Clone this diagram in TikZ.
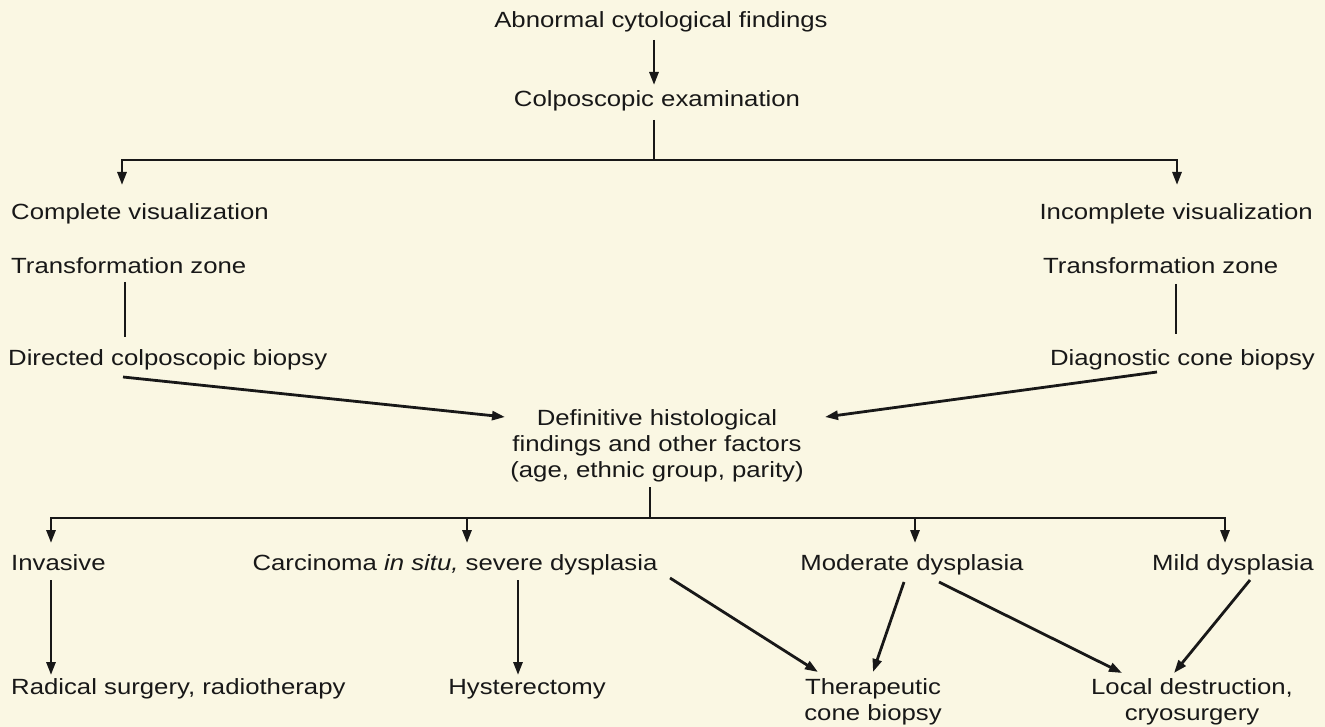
\documentclass[tikz,border=0pt]{standalone}
\usepackage{fontspec}
\setmainfont{Liberation Sans}[FakeStretch=1.17]
\usetikzlibrary{arrows.meta}
\definecolor{paper}{RGB}{250,247,227}
\definecolor{ink}{RGB}{24,24,24}
\begin{document}
\begin{tikzpicture}[x=1pt,y=-1pt,
  lbl/.style={inner sep=0pt, text=ink, font=\fontsize{22}{26}\selectfont},
  conn/.style={draw=ink, line width=2.8pt},
  arr/.style={conn, -{Triangle[length=13pt,width=9pt]}},
]
\fill[paper] (0,0) rectangle (1325,727);
\useasboundingbox (0,0) rectangle (1325,727);

% ---- text nodes ----
\node[lbl, anchor=base] (abn) at (661,28) {Abnormal cytological findings};
\node[lbl, anchor=base] (colp) at (657,107) {Colposcopic examination};
\node[lbl, anchor=base west] (comp) at (11,220) {Complete visualization};
\node[lbl, anchor=base east] (incomp) at (1313,220) {Incomplete visualization};
\node[lbl, anchor=base west] (tzl) at (11,274) {Transformation zone};
\node[lbl, anchor=base west] (tzr) at (1043,274) {Transformation zone};
\node[lbl, anchor=base west] (dir) at (8,365) {Directed colposcopic biopsy};
\node[lbl, anchor=base east] (diag) at (1315,365) {Diagnostic cone biopsy};
\node[lbl, align=center] (defin) at (657,446) {Definitive histological\\findings and other factors\\(age, ethnic group, parity)};
\node[lbl, anchor=base west] (inv) at (11,570) {Invasive};
\node[lbl, anchor=base] (cis) at (455,570) {Carcinoma \textit{in situ,} severe dysplasia};
\node[lbl, anchor=base] (mod) at (912,570) {Moderate dysplasia};
\node[lbl, anchor=base east] (mild) at (1314,570) {Mild dysplasia};
\node[lbl, anchor=base west] (rad) at (11,694) {Radical surgery, radiotherapy};
\node[lbl, anchor=base] (hys) at (527,694) {Hysterectomy};
\node[lbl, align=center] (tcb) at (873,701.5) {Therapeutic\\cone biopsy};
\node[lbl, align=center] (loc) at (1192,701.5) {Local destruction,\\cryosurgery};

% ---- connector points ----
\coordinate (abnS) at (654,40);
\coordinate (colpN) at (654,85);
\coordinate (colpS) at (654,120);
\coordinate (j1) at (654,160);
\coordinate (j1l) at (122,160);
\coordinate (j1r) at (1177,160);
\coordinate (compN) at (122,185);
\coordinate (incompN) at (1177,185);
\coordinate (tzlS) at (125,282);
\coordinate (dirN) at (125,337);
\coordinate (tzrS) at (1176,284);
\coordinate (diagN) at (1176,334);
\coordinate (dirE) at (123,377);
\coordinate (defW) at (505,417);
\coordinate (diagW) at (1157,372);
\coordinate (defE) at (825,417);
\coordinate (defS) at (650,487);
\coordinate (j2) at (650,518);
\coordinate (j2a) at (51,518);
\coordinate (j2b) at (467,518);
\coordinate (j2c) at (915,518);
\coordinate (j2d) at (1225,518);
\coordinate (invN) at (51,543);
\coordinate (cisN) at (467,543);
\coordinate (modN) at (915,543);
\coordinate (mildN) at (1225,543);
\coordinate (invS) at (51,580);
\coordinate (radN) at (51,675);
\coordinate (cisS) at (518,580);
\coordinate (hysN) at (518,675);
\coordinate (cisE) at (670,578);
\coordinate (tcbW) at (818,672);
\coordinate (modSW) at (904,582);
\coordinate (tcbN) at (873,672);
\coordinate (modSE) at (939,582);
\coordinate (locW) at (1122,673);
\coordinate (mildS) at (1250,580);
\coordinate (locN) at (1174,673);

% ---- connectors ----
\draw[arr] (abnS) -- (colpN);
\draw[conn] (colpS) -- (j1);
\draw[arr] (j1) -- (j1l) -- (compN);
\draw[arr] (j1) -- (j1r) -- (incompN);
\draw[conn] (tzlS) -- (dirN);
\draw[conn] (tzrS) -- (diagN);
\draw[arr] (dirE) -- (defW);
\draw[arr] (diagW) -- (defE);
\draw[conn] (defS) -- (j2);
\draw[arr] (j2) -- (j2a) -- (invN);
\draw[arr] (j2b) -- (cisN);
\draw[arr] (j2c) -- (modN);
\draw[arr] (j2) -- (j2d) -- (mildN);
\draw[arr] (invS) -- (radN);
\draw[arr] (cisS) -- (hysN);
\draw[arr] (cisE) -- (tcbW);
\draw[arr] (modSW) -- (tcbN);
\draw[arr] (modSE) -- (locW);
\draw[arr] (mildS) -- (locN);
\end{tikzpicture}
\end{document}
